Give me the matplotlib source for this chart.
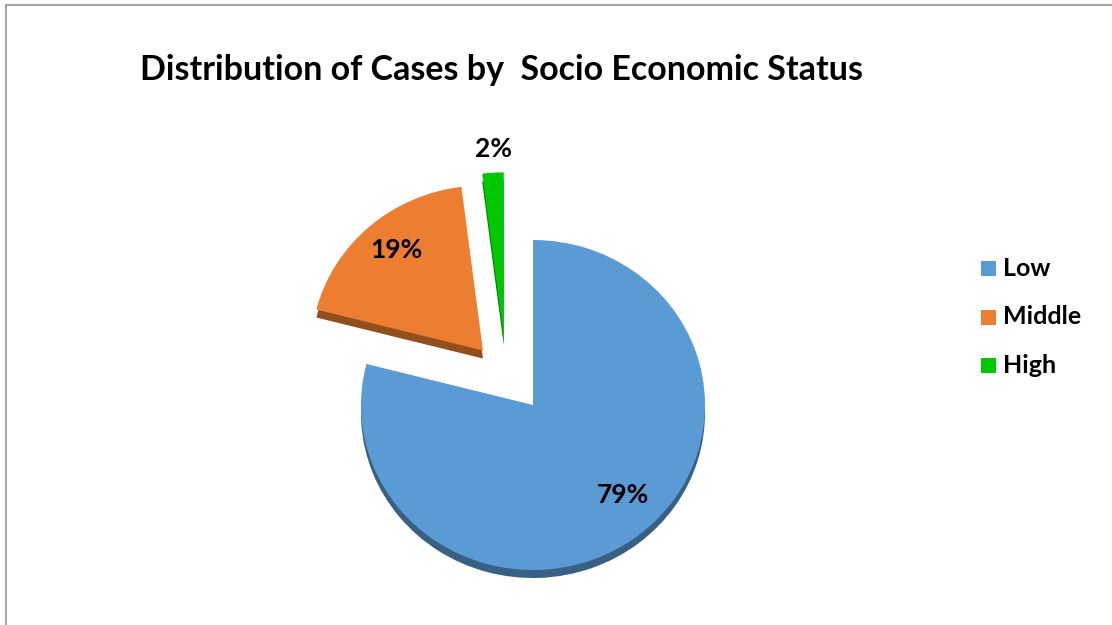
import numpy as np
import matplotlib.pyplot as plt
from matplotlib.patches import Rectangle
from matplotlib.colors import to_rgb

# Socio economic status shares (%)
categories = ['Low', 'Middle', 'High']
shares = [79, 19, 2]
colors = ['#5B9BD5', '#ED7D31', '#00C800']
explode = [0, 0.44, 0.45]

plt.rcParams['font.family'] = ['Lato', 'DejaVu Sans']

fig = plt.figure(figsize=(11.12, 6.25), dpi=100)

# pie radius 1 data unit = 172 px across, 165 px tall (slightly tilted disc)
sx, sy = 172, 165
cx, cy = 533, 625 - 405
half = 2.0
ax = fig.add_axes([(cx - half * sx) / 1112, (cy - half * sy) / 625,
                   2 * half * sx / 1112, 2 * half * sy / 625])

# the thin slice is pulled further to the left than its bisector
high_shift = (-0.17, 0.41)

# darker extruded base, shifted down to give a slight depth
depth = 8 / sy
dark = [tuple(c * 0.62 for c in to_rgb(col)) for col in colors]
base, _ = ax.pie(shares, colors=dark, explode=explode, startangle=90,
                 counterclock=False, radius=1, center=(0, -depth),
                 wedgeprops=dict(linewidth=0))
base[2].set_center((high_shift[0], high_shift[1] - depth))

wedges, _ = ax.pie(shares, colors=colors, explode=explode, startangle=90,
                   counterclock=False, radius=1, center=(0, 0),
                   wedgeprops=dict(linewidth=0))
wedges[2].set_center(high_shift)

# percentage labels: distance from wedge tip and angle nudge (deg)
label_dist = [0.755, 0.79, 1.14]
label_nudge = [6, -2, 0]
for w, val, d, nud in zip(wedges, shares, label_dist, label_nudge):
    x0, y0 = w.center
    if val == 2:
        x, y = x0 - 0.06, y0 + d
    else:
        ang = np.deg2rad((w.theta1 + w.theta2) / 2 + nud)
        x = x0 + d * np.cos(ang)
        y = y0 + d * np.sin(ang)
    ax.text(x, y, f'{val}%', ha='center', va='center',
            fontsize=19, fontweight='bold', color='black')

ax.set_xlim(-half, half)
ax.set_ylim(-half, half)
ax.set_aspect('auto')
ax.axis('off')

fig.text(502 / 1112, 1 - 70 / 625, 'Distribution of Cases by  Socio Economic Status',
         ha='center', va='center', fontsize=24.5, fontweight='bold')

# legend entries
for i, (lab, col) in enumerate(zip(categories, colors)):
    ypix = 268.5 + i * 48.5
    fig.patches.append(Rectangle((981 / 1112, 1 - (ypix + 7.5) / 625), 15 / 1112, 15 / 625,
                                 transform=fig.transFigure, facecolor=col, edgecolor='none'))
    fig.text(1003 / 1112, 1 - ypix / 625, lab, ha='left', va='center',
             fontsize=18, fontweight='bold')

# chart area frame
fig.patches.append(Rectangle((5.5 / 1112, -0.1), 1.2, 1.1 - 5.5 / 625,
                             transform=fig.transFigure, facecolor='none',
                             edgecolor='#A6A6A6', linewidth=1.5))

fig.savefig('out.png', dpi=100)
